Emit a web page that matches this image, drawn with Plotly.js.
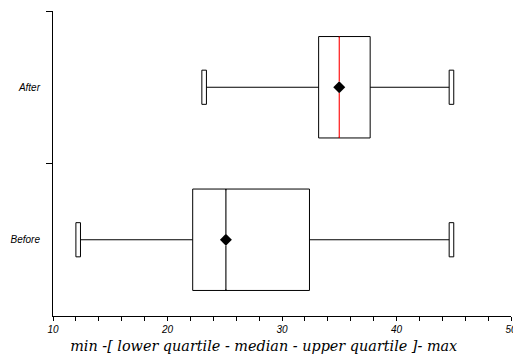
<!DOCTYPE html>
<html>
<head>
<meta charset="utf-8">
<script src="https://cdn.plot.ly/plotly-3.0.1.min.js"></script>
<style>html,body{margin:0;padding:0;background:#fff;}#chart{width:513px;height:357px;}</style>
</head>
<body>
<div id="chart"></div>
<script>
// ---- data ----
var categories = ['Before', 'After'];
var minimums   = [12.2, 23.2];
var lowerQuart = [22.2, 33.2];
var medians    = [25.1, 35.0];
var upperQuart = [32.4, 37.7];
var maximums   = [44.8, 44.8];
var means      = [25.1, 35.0];
var xTitle = 'min -[ lower quartile - median - upper quartile ]- max';

// ---- style ----
var medianColors = ['#000000', '#ff0000'];
var capHalfWidth = 0.2;    // data units
var capHalfHeight = 0.112; // category units
var boxHalf = 0.3325;
var markerGap = 0.037;     // keeps median overlay clear of the mean marker
var tickFont = {family: 'Liberation Sans, Arial, sans-serif', size: 10, color: '#000', style: 'italic'};
// nudges the axis title left (non-breaking spaces kept alive by a zero-width space)
var titlePad = '\u00a0\u00a0\u00a0\u00a0\u00a0\u00a0\u00a0\u00a0\u200b';

var boxTrace = {
  type: 'box',
  orientation: 'h',
  y: categories,
  q1: lowerQuart,
  median: medians,
  q3: upperQuart,
  lowerfence: minimums,
  upperfence: maximums,
  boxpoints: false,
  whiskerwidth: 0,
  width: boxHalf * 2,
  fillcolor: 'rgba(255,255,255,0)',
  line: {color: '#000', width: 1},
  hoverinfo: 'skip',
  showlegend: false
};

var meanTrace = {
  type: 'scatter',
  mode: 'markers',
  x: means,
  y: categories,
  marker: {symbol: 'diamond', size: 9.2, color: '#000'},
  hoverinfo: 'skip',
  showlegend: false
};

var boundaryTrace = {
  type: 'scatter', mode: 'none', x: [30], y: [0.5], yaxis: 'y2',
  hoverinfo: 'skip', showlegend: false
};

var shapes = [];
categories.forEach(function (c, i) {
  [minimums[i], maximums[i]].forEach(function (v) {
    shapes.push({type: 'rect', xref: 'x', yref: 'y',
      x0: v - capHalfWidth, x1: v + capHalfWidth,
      y0: i - capHalfHeight, y1: i + capHalfHeight,
      line: {color: '#000', width: 1}, fillcolor: '#fff', layer: 'above'});
  });
  // median overlay in two halves (below and above the mean marker);
  // a white underlay hides the trace's own median so the coloured one stays clean
  [[i - boxHalf, i - markerGap], [i + markerGap, i + boxHalf]].forEach(function (seg) {
    var inset = seg[0] < i ? [0.008, 0] : [0, -0.008];
    shapes.push({type: 'line', xref: 'x', yref: 'y',
      x0: medians[i], x1: medians[i], y0: seg[0] + inset[0], y1: seg[1] + inset[1],
      line: {color: '#ffffff', width: 2.6}, layer: 'above'});
    shapes.push({type: 'line', xref: 'x', yref: 'y',
      x0: medians[i], x1: medians[i], y0: seg[0], y1: seg[1],
      line: {color: medianColors[i], width: 1.1}, layer: 'above'});
  });
});

var layout = {
  width: 513, height: 357,
  margin: {l: 53, r: 2, t: 11, b: 41, pad: 0},
  paper_bgcolor: '#fff', plot_bgcolor: '#fff',
  showlegend: false,
  xaxis: {
    range: [10, 50], dtick: 10, tick0: 10,
    showgrid: false, zeroline: false,
    showline: true, linecolor: '#000', linewidth: 1,
    ticks: 'outside', ticklen: 4, tickwidth: 1, tickcolor: '#000',
    minor: {dtick: 2, ticks: 'outside', ticklen: 4, tickwidth: 1, tickcolor: '#000', showgrid: false},
    tickfont: tickFont,
    ticklabeloverflow: 'allow',
    title: {text: xTitle + titlePad, standoff: 6,
      font: {family: 'DejaVu Serif, serif', size: 14.4, color: '#000', style: 'italic'}}
  },
  yaxis: {
    type: 'category', categoryorder: 'array', categoryarray: categories,
    range: [-0.5, 1.5],
    showgrid: false, zeroline: false,
    showline: true, linecolor: '#000', linewidth: 1,
    ticks: '', ticklabelstandoff: 10,
    tickfont: tickFont
  },
  yaxis2: {
    overlaying: 'y', side: 'left',
    range: [-0.5, 1.5], tickvals: [0.5, 1.5],
    showticklabels: false, showgrid: false, zeroline: false, showline: false,
    ticks: 'outside', ticklen: 6, tickwidth: 1, tickcolor: '#000'
  },
  shapes: shapes
};

Plotly.newPlot('chart', [boxTrace, meanTrace, boundaryTrace], layout, {displayModeBar: false, staticPlot: true});
</script>
</body>
</html>
